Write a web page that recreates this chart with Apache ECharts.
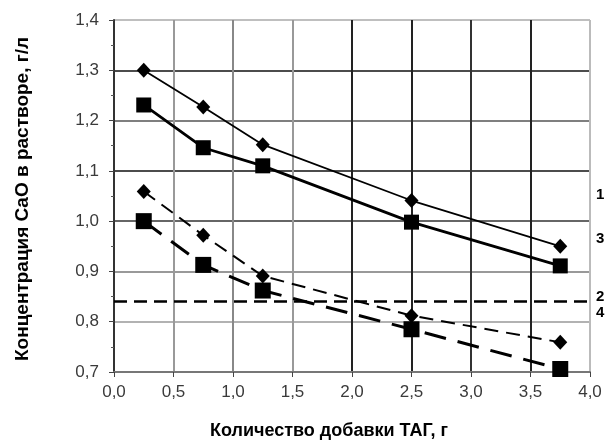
<!DOCTYPE html>
<html>
<head>
<meta charset="utf-8">
<script src="https://cdn.jsdelivr.net/npm/echarts@6/dist/echarts.min.js"></script>
<style>
  html, body { margin: 0; padding: 0; background: #fff; }
  #chart { width: 605px; height: 445px; }
</style>
</head>
<body>
<div id="chart"></div>
<script>
// добавка ТАГ, г
var doses = [0.25, 0.75, 1.25, 2.5, 3.75];
// концентрация CaO, г/л
var curve1 = [1.300, 1.227, 1.152, 1.041, 0.950];
var curve3 = [1.231, 1.146, 1.110, 0.998, 0.911];
var curve2 = [1.059, 0.972, 0.891, 0.812, 0.759];
var curve4 = [1.000, 0.913, 0.862, 0.785, 0.706];
var level = 0.845;
var curveNames = ['1', '3', '2', '4'];

function pairs(vals) {
    return doses.map(function (x, i) { return [x, vals[i]]; });
}
function comma(v, d) {
    return v.toFixed(d).replace('.', ',');
}
function tag(txt, top) {
    return {
        type: 'text', left: 596, top: top,
        style: { text: txt, fontFamily: 'Liberation Sans', fontSize: 15, fontWeight: 'bold', fill: '#000' }
    };
}

var myChart = echarts.init(document.getElementById('chart'));

var option = {
    animation: false,
    backgroundColor: '#fff',
    grid: { left: 114, right: 15, top: 20, bottom: 70 },
    xAxis: {
        type: 'value',
        min: 0, max: 4, interval: 0.5,
        name: 'Количество добавки ТАГ, г',
        nameLocation: 'middle',
        nameGap: 50,
        nameTextStyle: {
            fontFamily: 'Liberation Sans', fontSize: 18, fontWeight: 'bold',
            color: '#000', padding: [0, 46, 0, 0]
        },
        axisLine: { show: true, onZero: false, lineStyle: { color: '#777', width: 2 } },
        axisTick: { show: true, length: 5, lineStyle: { color: '#444' } },
        axisLabel: {
            margin: 12, fontFamily: 'Liberation Sans', fontSize: 17, color: '#3a3a3a',
            formatter: function (v) { return comma(v, 1); }
        },
        splitLine: {
            show: true,
            lineStyle: {
                width: 2,
                color: ['#444', '#999', '#888', '#999', '#222', '#222', '#333', '#222', '#bbb']
            }
        }
    },
    yAxis: {
        type: 'value',
        min: 0.7, max: 1.4, interval: 0.1,
        name: 'Концентрация CaO в растворе, г/л',
        nameLocation: 'middle',
        nameGap: 82,
        nameTextStyle: {
            fontFamily: 'Liberation Sans', fontSize: 19, fontWeight: 'bold', color: '#000',
            padding: [0, 6, 0, 0]
        },
        axisLine: { show: true, onZero: false, lineStyle: { color: '#333', width: 2 } },
        axisTick: { show: true, length: 5, lineStyle: { color: '#444' } },
        minorTick: { show: true, splitNumber: 2, length: 3, lineStyle: { color: '#555' } },
        axisLabel: {
            margin: 15, fontFamily: 'Liberation Sans', fontSize: 17, color: '#3a3a3a',
            formatter: function (v) { return comma(v, 1); }
        },
        splitLine: {
            show: true,
            lineStyle: {
                width: 1.5,
                color: ['#777', '#999', '#777', '#333', '#111', '#555', '#111', '#aaa']
            }
        }
    },
    series: [
        {
            name: curveNames[0], type: 'line', data: pairs(curve1),
            symbol: 'diamond', symbolSize: [14, 15],
            lineStyle: { color: '#000', width: 1.8 },
            itemStyle: { color: '#000' },
            markLine: {
                silent: true, symbol: 'none', label: { show: false },
                lineStyle: { color: '#000', width: 2.5, type: [13, 7] },
                data: [{ yAxis: level }]
            }
        },
        {
            name: curveNames[1], type: 'line', data: pairs(curve3),
            symbol: 'rect', symbolSize: 15,
            lineStyle: { color: '#000', width: 2.8 },
            itemStyle: { color: '#000' }
        },
        {
            name: curveNames[2], type: 'line', data: pairs(curve2),
            symbol: 'diamond', symbolSize: [14, 15],
            lineStyle: { color: '#000', width: 2, type: [14, 8] },
            itemStyle: { color: '#000' }
        },
        {
            name: curveNames[3], type: 'line', data: pairs(curve4),
            symbol: 'rect', symbolSize: 16,
            lineStyle: { color: '#000', width: 3, type: [22, 12] },
            itemStyle: { color: '#000' }
        }
    ],
    graphic: [
        tag(curveNames[0], 187),
        tag(curveNames[1], 231),
        tag(curveNames[2], 289),
        tag(curveNames[3], 305)
    ]
};

myChart.setOption(option);
</script>
</body>
</html>
